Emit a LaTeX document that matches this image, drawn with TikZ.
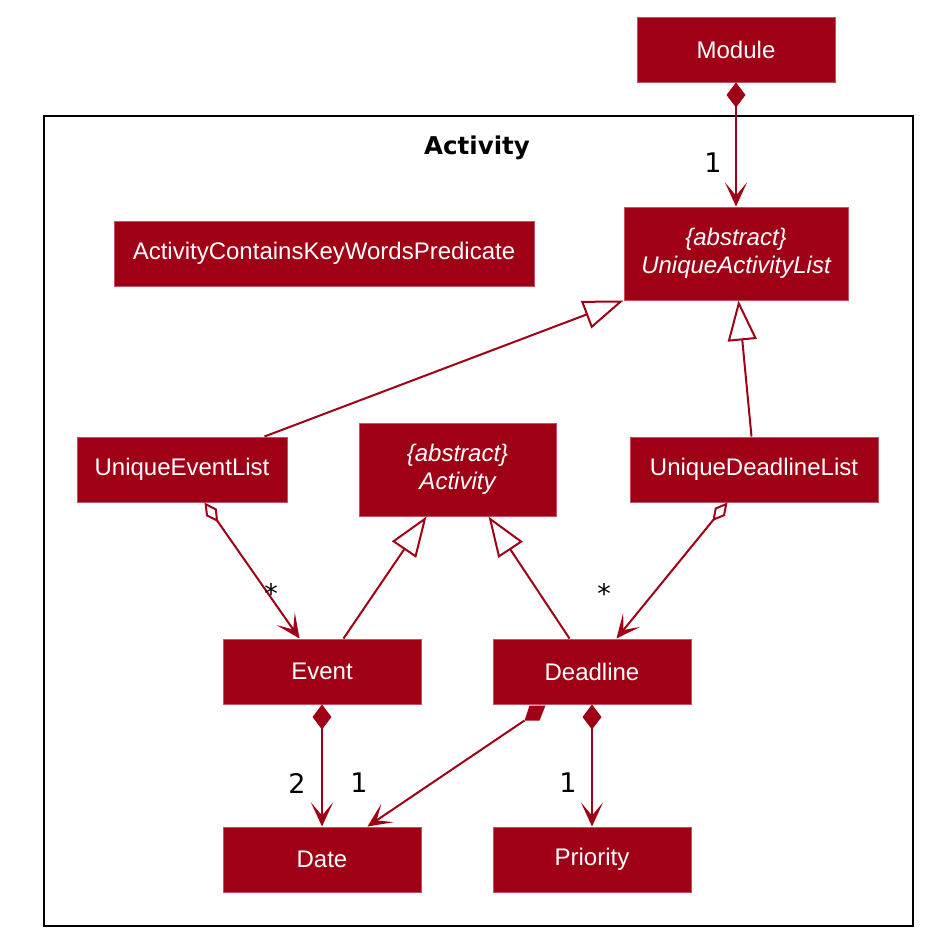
\documentclass[tikz,border=0pt]{standalone}
\usepackage{fontspec}
\setmainfont{Liberation Sans}
\newfontfamily\dejavu{DejaVu Sans}
\usetikzlibrary{arrows.meta,calc}
\definecolor{umlred}{RGB}{160,0,21}
\definecolor{umlborder}{RGB}{196,80,96}
\tikzset{
  cls/.style={draw=umlborder, line width=1pt, fill=umlred, text=white, inner sep=0pt, align=center,
    font=\fontsize{24}{28.5}\selectfont},
  edge/.style={draw=umlred, line width=2pt},
  vtip/.tip={Stealth[length=24pt, width=22pt, inset=13pt]},
  comp/.tip={Diamond[length=25pt, width=19pt]},
  aggr/.tip={Diamond[open, length=24pt, width=13pt, fill=white]},
  ext/.tip={Triangle[open, length=40pt, width=29pt, fill=white]},
  mult/.style={text=black, font=\dejavu\fontsize{27}{30}\selectfont, inner sep=0pt},
}
\begin{document}
\begin{tikzpicture}[x=1pt,y=-1pt]
\useasboundingbox (0,0) rectangle (932,946);
\fill[white] (0,0) rectangle (932,946);
% package frame
\draw[black, line width=2.5pt] (44,116) rectangle (913,926);
\node[font=\dejavu\bfseries\fontsize{24.5}{28}\selectfont] (pkgtitle) at (477,148) {Activity};
% classes
\node[cls, minimum width=198pt, minimum height=65pt] (module) at (736,49.5) {Module};
\node[cls, minimum width=224pt, minimum height=93pt] (ual) at (736,253.5) {\itshape\{abstract\}\\\itshape UniqueActivityList};
\node[cls, minimum width=420pt, minimum height=65pt] (pred) at (324,253.5) {ActivityContainsKeyWordsPredicate};
\node[cls, minimum width=210pt, minimum height=65pt] (uel) at (182,469.5) {UniqueEventList};
\node[cls, minimum width=197pt, minimum height=93pt] (act) at (457.5,469.5) {\itshape\{abstract\}\\\itshape Activity};
\node[cls, minimum width=248pt, minimum height=65pt] (udl) at (754,469.5) {UniqueDeadlineList};
\node[cls, minimum width=198pt, minimum height=65pt] (event) at (322,671.5) {Event};
\node[cls, minimum width=198pt, minimum height=65pt] (deadline) at (592,671.5) {Deadline};
\node[cls, minimum width=198pt, minimum height=65pt] (date) at (322,859.5) {Date};
\node[cls, minimum width=198pt, minimum height=65pt] (priority) at (592,859.5) {Priority};
% connectors
\draw[edge, {comp}-{vtip}] (module.south) -- (ual.north);
\node[mult] (m1) at (713,163) {1};
\draw[edge, -{ext}] ($(uel.north west)+(188,0)$) -- (ual.south west);
\draw[edge, -{ext}] ($(udl.north west)+(122,0)$) -- ($(ual.south west)+(115,0)$);
\draw[edge, {aggr}-{vtip}] ($(uel.south west)+(128,0)$) -- ($(event.north west)+(77,0)$);
\node[mult] (m2) at (271,593) {*};
\draw[edge, {aggr}-{vtip}] ($(udl.south west)+(98,0)$) -- ($(deadline.north west)+(124,0)$);
\node[mult] (m3) at (604,593) {*};
\draw[edge, -{ext}] ($(event.north west)+(121,0)$) -- ($(act.south west)+(68,0)$);
\draw[edge, -{ext}] ($(deadline.north west)+(77,0)$) -- ($(act.south west)+(130,0)$);
\draw[edge, {comp}-{vtip}] (event.south) -- (date.north);
\node[mult] (m4) at (297,783) {2};
\draw[edge, {comp}-{vtip}] (deadline.south) -- (priority.north);
\node[mult] (m6) at (568,783) {1};
\coordinate (ddstart) at ($(deadline.south west)+(32,16)$);
\fill[umlred] ($(deadline.south west)+(37,1)$) -- ($(deadline.south west)+(53,1)$) -- ($(deadline.south west)+(47,16)$) -- (ddstart) -- cycle;
\draw[edge, -{vtip}] (ddstart) -- ($(date.north west)+(145,0)$);
\node[mult] (m5) at (359,783) {1};
\end{tikzpicture}
\end{document}
